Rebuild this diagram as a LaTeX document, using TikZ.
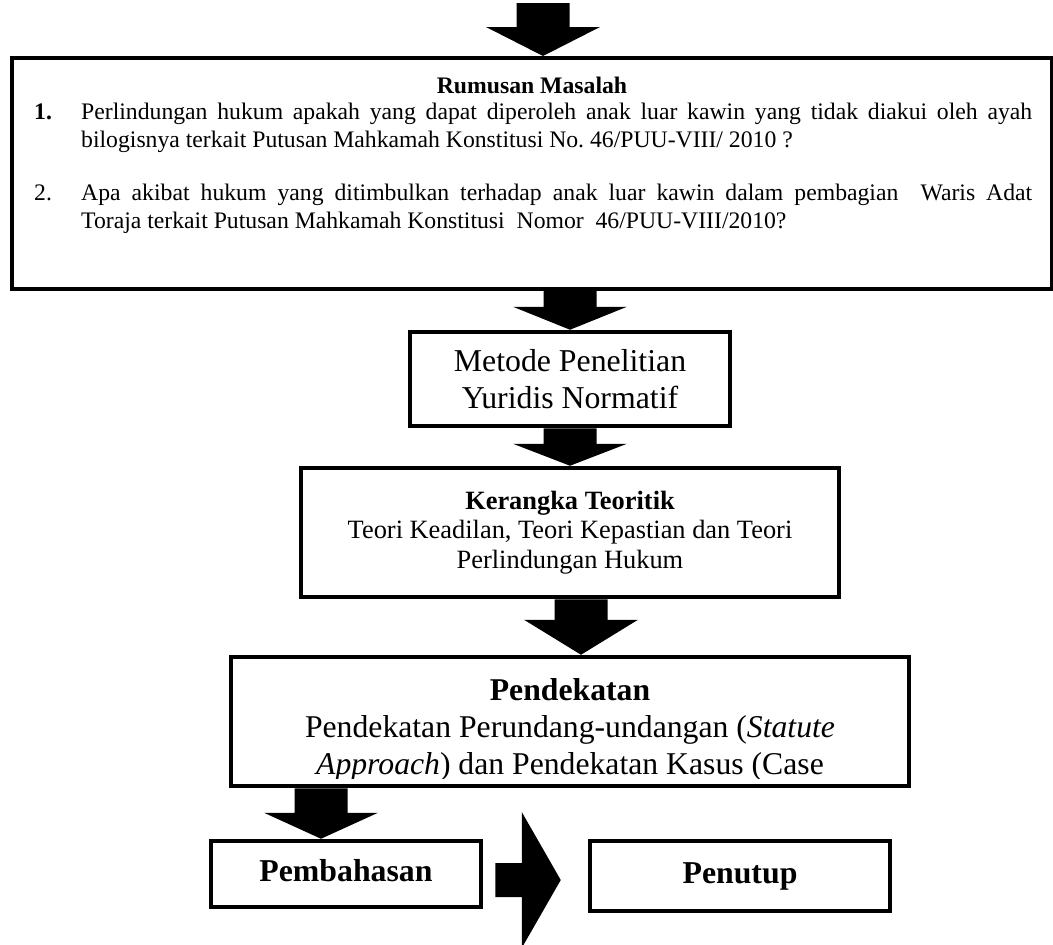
\documentclass[tikz,border=0pt]{standalone}
\usepackage{fontspec}
\setmainfont{Liberation Serif}
\usetikzlibrary{calc}
\frenchspacing
\tolerance=9999

\tikzset{
  box/.style={draw, line width=4.5pt, inner sep=0pt, align=center},
  endbox/.style={box, font=\fontsize{31.8}{37}\selectfont\bfseries, text height=22pt, text depth=7pt},
  rtext/.style={font=\fontsize{23.7}{28}\selectfont, inner sep=0pt},
  rbold/.style={font=\fontsize{23.7}{28}\selectfont\bfseries, inner sep=0pt},
  itemtext/.style={rtext, text width=951pt, align=justify, anchor=base west},
  blockdown/.style={fill=black, to path={let \p1=(\tikztostart), \p2=(\tikztotarget) in
      (\x1-26.5pt,\y1) -- (\x1+26.5pt,\y1) -- (\x1+26.5pt,\y2+#1pt) -- (\x1+57pt,\y2+#1pt)
      -- (\x1,\y2) -- (\x1-57pt,\y2+#1pt) -- (\x1-26.5pt,\y2+#1pt) -- cycle}},
  blockdown/.default=28,
  blockright/.style={fill=black, to path={let \p1=(\tikztostart), \p2=(\tikztotarget) in
      (\x1+12pt,\y1+11pt) -- (\x2-66pt,\y1+11pt) -- (\x2-66pt,\y1+62pt) -- (\x2-27pt,\y1-6pt)
      -- (\x2-66pt,\y1-74pt) -- (\x2-66pt,\y1-23pt) -- (\x1+12pt,\y1-23pt) -- cycle}}
}

\begin{document}
\begin{tikzpicture}[x=1pt, y=-1pt]
  \fill[white] (0,0) rectangle (1053,945);
  \useasboundingbox (0,0) rectangle (1053,945);

  % boxes
  \node[box, line width=4pt, minimum width=1040pt, minimum height=231pt] (rumusan) at (532,173.5) {};
  \node[box, font=\fontsize{31.8}{37}\selectfont, minimum width=320pt, minimum height=94pt] (metode) at (570,379) {Metode Penelitian\\Yuridis Normatif};
  \node[box, font=\fontsize{26.4}{29.5}\selectfont, minimum width=538pt, minimum height=129pt] (kerangka) at (570,532.5) {\textbf{Kerangka Teoritik}\\Teori Keadilan, Teori Kepastian dan Teori\\Perlindungan Hukum};
  \node[box, minimum width=678pt, minimum height=129pt] (pendekatan) at (570,721.5) {};
  \node[endbox, minimum width=270pt, minimum height=66pt] (pembahasan) at (346,874) {Pembahasan};
  \node[endbox, minimum width=300pt, minimum height=70pt] (penutup) at (740,876) {Penutup};

  % rumusan masalah
  \node[rbold, anchor=base] (rumusantitle) at (532,93) {Rumusan Masalah};
  \node[rbold, anchor=base west] (noa) at (34,119) {1.};
  \node[itemtext] (itema) at (81,119) {Perlindungan hukum apakah yang dapat diperoleh anak luar kawin yang tidak diakui oleh ayah\linebreak bilogisnya terkait Putusan Mahkamah Konstitusi No. 46/PUU-VIII/ 2010 ?};
  \node[rtext, anchor=base west] (nob) at (34,200) {2.};
  \node[itemtext] (itemb) at (81,200) {Apa akibat hukum yang ditimbulkan terhadap anak luar kawin dalam pembagian \ Waris Adat\linebreak Toraja terkait Putusan Mahkamah Konstitusi \ Nomor \ 46/PUU-VIII/2010?};

  % pendekatan, cut off at the bottom
  \begin{scope}
    \clip ([yshift=10pt]pendekatan.south west) rectangle (pendekatan.north east);
    \node[font=\fontsize{31.7}{37}\selectfont, align=center, inner sep=0pt] (pendekatantext) at ([yshift=-8pt]pendekatan.center) {\textbf{Pendekatan}\\Pendekatan Perundang-undangan (\textit{Statute}\\\textit{Approach}) dan Pendekatan Kasus (Case};
  \end{scope}

  % arrows
  \coordinate (start) at (543,3);
  \fill[blockdown=29] (start) to (start |- rumusan.north);
  \fill[blockdown=23] (metode.north |- rumusan.south) to (metode.north);
  \fill[blockdown=22] (metode.south) to (kerangka.north);
  \fill[blockdown=35] ([xshift=11pt]kerangka.south) to ([xshift=11pt]pendekatan.north);
  \fill[blockdown=26] ([xshift=-25pt]pembahasan.north |- pendekatan.south) to ([xshift=-25pt]pembahasan.north);
  \fill[blockright] (pembahasan.east) to (penutup.west);
\end{tikzpicture}
\end{document}
